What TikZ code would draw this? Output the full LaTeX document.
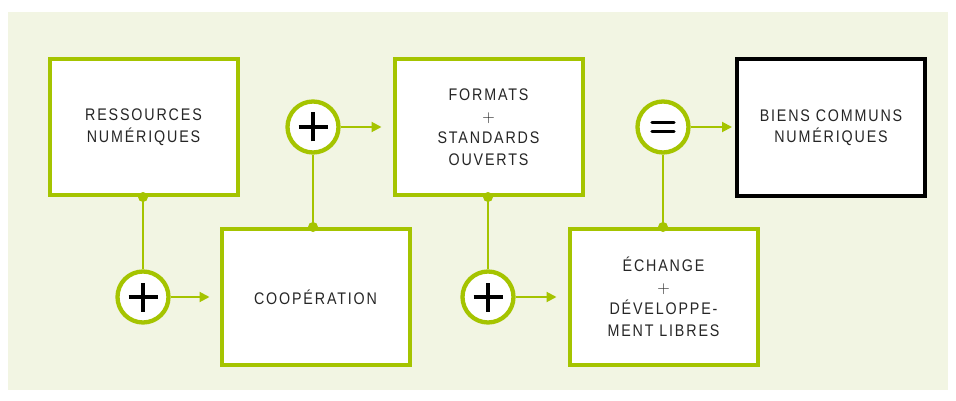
\documentclass[tikz,border=0pt]{standalone}
\usepackage{fontspec}
\setmainfont{Liberation Sans}[FakeStretch=0.85,LetterSpace=11]
\usetikzlibrary{arrows.meta}
\definecolor{lime}{HTML}{A5C400}
\definecolor{bgc}{HTML}{F2F5E3}
\definecolor{ink}{HTML}{262626}
\begin{document}
\begin{tikzpicture}[x=1pt,y=-1pt,
 box/.style={draw=lime,line width=4pt,fill=white,minimum width=188pt,minimum height=136pt,align=center,text=ink,font=\fontsize{16.8}{21.5}\selectfont},
 finalbox/.style={box,draw=black},
 op/.style={circle,draw=lime,line width=4.3pt,fill=white,minimum size=51pt,inner sep=0pt},
 link/.style={draw=lime,line width=2pt},
 flow/.style={link,-{Triangle[length=10pt,width=10pt]}},
 sym/.style={line width=3.2pt,draw=black},
 dot/.style={fill=lime}]
\useasboundingbox (0,0) rectangle (956,401);
\fill[bgc] (8,12) rectangle (948,390);
% boxes
\node[box] (res) at (143.5,127) {RESSOURCES\\NUMÉRIQUES};
\node[box] (coop) at (315.5,297) {COOPÉRATION};
\node[box] (fmt) at (488.5,127) {FORMATS\\$+$\\STANDARDS\\OUVERTS};
\node[box] (ech) at (663.5,297) {ÉCHANGE\\$+$\\DÉVELOPPE-\\MENT LIBRES};
\node[finalbox] (bien) at (831,127.5) {BIENS COMMUNS\\NUMÉRIQUES};
% operator circles
\node[op] (c1) at (143,297) {};
\node[op] (c2) at (313,127) {};
\node[op] (c3) at (488,297) {};
\node[op] (c4) at (663,127) {};
% vertical links
\draw[link] (res.south -| c1) -- (c1.north);
\draw[link] (coop.north -| c2) -- (c2.south);
\draw[link] (fmt.south -| c3) -- (c3.north);
\draw[link] (ech.north -| c4) -- (c4.south);
% dots
\fill[dot] (res.south -| c1) circle (5pt);
\fill[dot] (coop.north -| c2) circle (5pt);
\fill[dot] (fmt.south -| c3) circle (5pt);
\fill[dot] (ech.north -| c4) circle (5pt);
% arrows
\draw[flow] (c1.east) -- ([xshift=-10pt]coop.west |- c1);
\draw[flow] (c2.east) -- ([xshift=-11pt]fmt.west |- c2);
\draw[flow] (c3.east) -- ([xshift=-11pt]ech.west |- c3);
\draw[flow] (c4.east) -- ([xshift=-3pt]bien.west |- c4);
% symbols
\foreach \c in {c1,c2,c3}{
  \draw[sym] ([xshift=-14.5pt]\c.center) -- ([xshift=14.5pt]\c.center);
  \draw[sym] ([yshift=-14.5pt]\c.center) -- ([yshift=14.5pt]\c.center);
}
\draw[sym,line cap=round] ([shift={(-11,-4.5)}]c4.center) -- ([shift={(11,-4.5)}]c4.center);
\draw[sym,line cap=round] ([shift={(-11,4.5)}]c4.center) -- ([shift={(11,4.5)}]c4.center);
\end{tikzpicture}
\end{document}
